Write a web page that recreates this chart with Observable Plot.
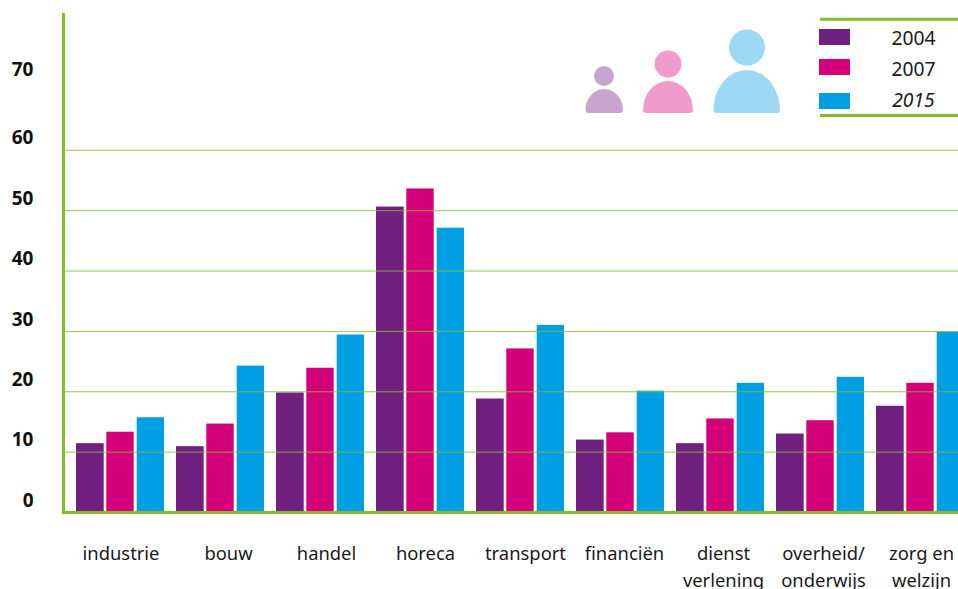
<!DOCTYPE html>
<html>
<head>
<meta charset="utf-8">
<script src="https://cdn.jsdelivr.net/npm/d3@7"></script>
<script src="https://cdn.jsdelivr.net/npm/@observablehq/plot@0.6"></script>
<style>
  html, body { margin: 0; padding: 0; background: #fff; overflow: hidden; }
  #wrap { position: relative; width: 958px; height: 589px; }
  #wrap svg { position: absolute; left: 0; top: 0; }
</style>
</head>
<body>
<div id="wrap"></div>
<script>
const categories = ["industrie", "bouw", "handel", "horeca", "transport", "financiën", "dienst\nverlening", "overheid/\nonderwijs", "zorg en\nwelzijn"];
const values2004 = [11.4, 10.9, 19.8, 50.6, 18.8, 12.0, 11.4, 13.0, 17.6];
const values2007 = [13.3, 14.65, 23.9, 53.6, 27.1, 13.2, 15.5, 15.2, 21.4];
const values2015 = [15.7, 24.25, 29.4, 47.1, 31.0, 20.1, 21.4, 22.4, 29.9];
const gridTicks = [10, 20, 30, 40, 50, 60];
const labelTicks = [0, 10, 20, 30, 40, 50, 60];
const topTick = [70];
const years = ["2004", "2007", "2015"];

const purple = "#70207e", magenta = "#d4007a", blue = "#009fe3", green = "#84bc2e";
const font = "'Noto Sans', 'Open Sans', sans-serif";
const labelShift = [0.5, 8, 6, 5, 5, 4, 3, 3, 1];

const bars = (vals, fill, l, r) => Plot.barY(categories.map((c, i) => ({c, v: vals[i]})), {
  x: "c", y: "v", fill, insetLeft: l, insetRight: r
});

const chart = Plot.plot({
  width: 958,
  height: 589,
  marginLeft: 63,
  marginRight: 0,
  marginTop: 14,
  marginBottom: 77,
  style: {background: "#fff", fontFamily: font},
  x: {domain: categories, range: [70, 970], padding: 0, axis: null},
  y: {domain: [0, 82.5], axis: null},
  marks: [
    bars(values2004, purple, 6, 66.3),
    bars(values2007, magenta, 36.3, 36.3),
    bars(values2015, blue, 66.7, 6),
    Plot.ruleY(gridTicks, {stroke: green, strokeWidth: 1, strokeOpacity: 0.85}),
    Plot.ruleY([0], {stroke: green, strokeWidth: 3}),
    Plot.frame({anchor: "left", stroke: green, strokeWidth: 3}),
    Plot.text(labelTicks, {y: d => d, frameAnchor: "left", dx: -30, dy: -12, text: d => String(d), textAnchor: "end", fontSize: 19, fontWeight: 700, fill: "#111"}),
    Plot.text(topTick, {y: d => d, frameAnchor: "left", dx: -30, dy: -20, text: d => String(d), textAnchor: "end", fontSize: 19, fontWeight: 700, fill: "#111"}),
    ...categories.map((c, i) => Plot.text([c], {
      x: d => d, y: 0, dx: labelShift[i], dy: 29, text: d => d, lineAnchor: "top", lineHeight: 1.44, fontSize: 18.4, fill: "#1a1a1a"
    }))
  ]
});
document.getElementById("wrap").appendChild(chart);

// Legend and person icons overlay
const overlay = d3.select("#wrap").append("svg").attr("width", 958).attr("height", 589).style("font-family", font);
const person = (cx, cy, r, x0, x1, top, bottom, fill) => {
  overlay.append("circle").attr("cx", cx).attr("cy", cy).attr("r", r).attr("fill", fill);
  const c = 3, rx = (x1 - x0) / 2, ry = bottom - c - top;
  overlay.append("path").attr("fill", fill).attr("d",
    `M${x0} ${bottom - c}A${rx} ${ry} 0 0 1 ${x1} ${bottom - c}Q${x1} ${bottom} ${x1 - c} ${bottom}H${x0 + c}Q${x0} ${bottom} ${x0} ${bottom - c}Z`);
};
person(604, 76, 10, 585.5, 623, 89, 113, "#c7a6ce");
person(668, 64, 13.5, 643, 693, 81, 113, "#ef9bcb");
person(747, 47.5, 18, 713.5, 780, 70, 113, "#9dd8f5");

[19.3, 115.5].forEach(y => overlay.append("line").attr("x1", 820).attr("x2", 958).attr("y1", y).attr("y2", y).attr("stroke", green).attr("stroke-width", 3));
[[29, purple, 44.5], [59, magenta, 76], [93, blue, 106.7]].forEach(([y, f, base], i) => {
  overlay.append("rect").attr("x", 819).attr("y", y).attr("width", 31).attr("height", 16).attr("fill", f);
  overlay.append("text").attr("x", 913.5).attr("y", base).attr("text-anchor", "middle")
    .attr("font-size", 19.3).attr("fill", "#1a1a1a").attr("font-style", i === 2 ? "italic" : "normal").text(years[i]);
});
</script>
</body>
</html>
